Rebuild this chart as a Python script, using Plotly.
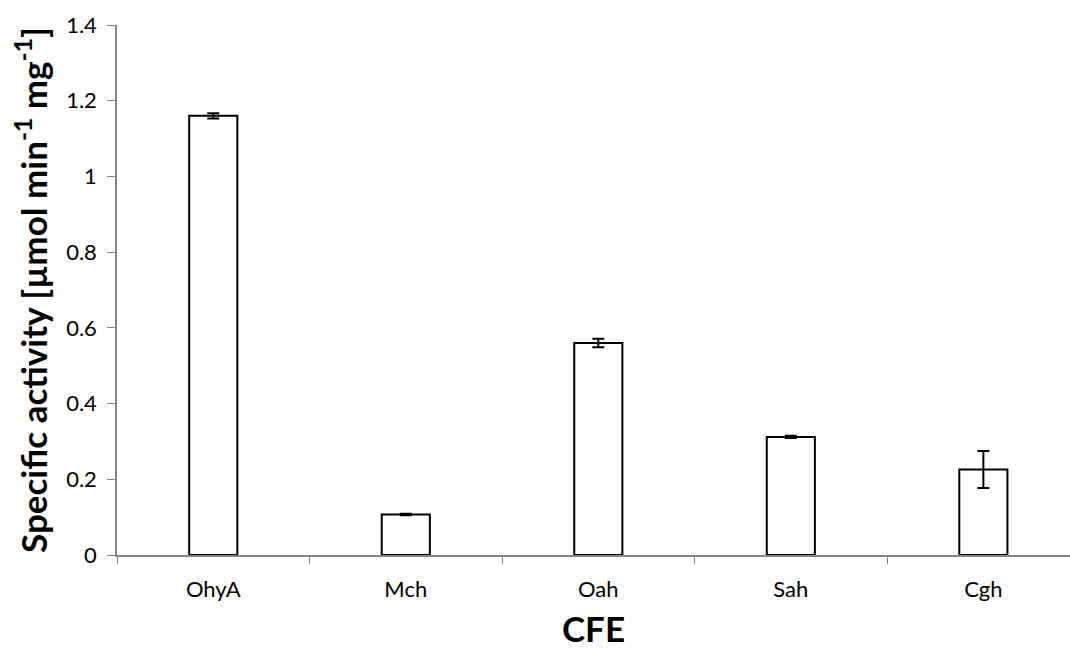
import plotly.graph_objects as go

categories = ["OhyA", "Mch", "Oah", "Sah", "Cgh"]
values = [1.16, 0.107, 0.56, 0.312, 0.226]
errors = [0.007, 0.002, 0.011, 0.003, 0.049]
y_ticks = [0, 0.2, 0.4, 0.6, 0.8, 1.0, 1.2, 1.4]
y_tick_labels = ["0", "0.2", "0.4", "0.6", "0.8", "1", "1.2", "1.4"]

fig = go.Figure()
fig.add_trace(go.Bar(
    x=categories, y=values,
    width=0.25,
    marker=dict(color="white", line=dict(color="black", width=2)),
    error_y=dict(type="data", array=errors, visible=True, color="black", thickness=2, width=6),
))

axis_gray = "#868686"
fig.update_layout(
    width=1070, height=649,
    margin=dict(l=117, r=0, t=25, b=94),
    paper_bgcolor="white", plot_bgcolor="white",
    font=dict(family="Lato, Open Sans, sans-serif", size=22, color="black"),
    showlegend=False,
    xaxis=dict(
        type="category", range=[-0.5, 4.45],
        showline=True, linecolor=axis_gray, linewidth=1.5,
        ticks="outside", tickson="boundaries", ticklen=7, tickcolor=axis_gray, tickwidth=1,
        showgrid=False, ticklabelstandoff=14,
        tickfont=dict(size=22),
        title=dict(text="<b>CFE</b>", font=dict(size=35), standoff=16),
    ),
    yaxis=dict(
        range=[0, 1.4], tickvals=y_ticks, ticktext=y_tick_labels,
        showline=True, linecolor=axis_gray, linewidth=1.5,
        ticks="outside", ticklen=8, tickcolor=axis_gray, tickwidth=1,
        showgrid=False, zeroline=False, ticklabelstandoff=6,
        tickfont=dict(size=22),
        title=dict(text="<b>Specific activity [µmol min<sup>-1</sup> mg<sup>-1</sup>]</b>", font=dict(size=35), standoff=8),
    ),
)

fig.write_html("out.html")
